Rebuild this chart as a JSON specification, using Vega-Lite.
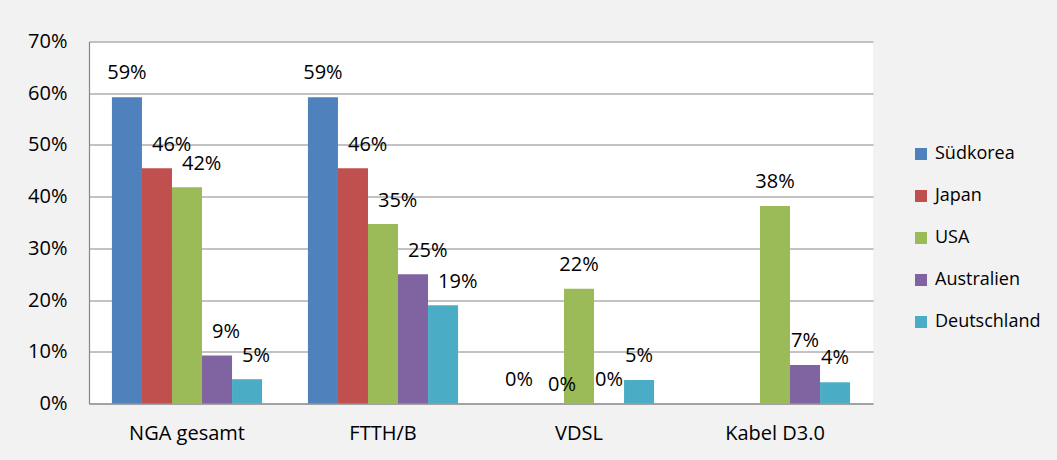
{
  "$schema": "https://vega.github.io/schema/vega-lite/v6.json",
  "width": 784,
  "height": 362,
  "autosize": {"type": "none"},
  "padding": {"left": 89, "top": 41.5, "right": 184, "bottom": 56.5},
  "background": "#f2f2f2",
  "config": {
    "font": "Open Sans",
    "view": {"fill": "white", "stroke": null},
    "axis": {"labelFont": "Open Sans", "labelColor": "#000000", "gridColor": "#868686", "domainColor": "#868686", "gridWidth": 1, "domainWidth": 1.2}
  },
  "data": {
    "values": [
      {"cat": "NGA gesamt", "land": "Südkorea", "v": 0.592},
      {"cat": "NGA gesamt", "land": "Japan", "v": 0.455},
      {"cat": "NGA gesamt", "land": "USA", "v": 0.418},
      {"cat": "NGA gesamt", "land": "Australien", "v": 0.093},
      {"cat": "NGA gesamt", "land": "Deutschland", "v": 0.047},
      {"cat": "FTTH/B", "land": "Südkorea", "v": 0.592},
      {"cat": "FTTH/B", "land": "Japan", "v": 0.455},
      {"cat": "FTTH/B", "land": "USA", "v": 0.347},
      {"cat": "FTTH/B", "land": "Australien", "v": 0.25},
      {"cat": "FTTH/B", "land": "Deutschland", "v": 0.19},
      {"cat": "VDSL", "land": "Südkorea", "v": 0},
      {"cat": "VDSL", "land": "Japan", "v": 0},
      {"cat": "VDSL", "land": "USA", "v": 0.222},
      {"cat": "VDSL", "land": "Australien", "v": 0},
      {"cat": "VDSL", "land": "Deutschland", "v": 0.0455},
      {"cat": "Kabel D3.0", "land": "USA", "v": 0.382},
      {"cat": "Kabel D3.0", "land": "Australien", "v": 0.0745},
      {"cat": "Kabel D3.0", "land": "Deutschland", "v": 0.041}
    ]
  },
  "encoding": {
    "x": {
      "field": "cat", "type": "nominal", "sort": ["NGA gesamt", "FTTH/B", "VDSL", "Kabel D3.0"],
      "scale": {"paddingInner": 0.234, "paddingOuter": 0.117},
      "axis": {"title": null, "labelAngle": 0, "ticks": false, "labelFontSize": 20, "labelPadding": 20, "grid": false}
    },
    "xOffset": {
      "field": "land", "type": "nominal",
      "scale": {"domain": ["Südkorea", "Japan", "USA", "Australien", "Deutschland"], "paddingInner": 0, "paddingOuter": 0}
    },
    "y": {
      "field": "v", "type": "quantitative",
      "scale": {"domain": [0, 0.7], "nice": false},
      "axis": {"title": null, "format": ".0%", "values": [0, 0.1, 0.2, 0.3, 0.4, 0.5, 0.6, 0.7], "ticks": false, "labelFontSize": 20, "labelPadding": 22, "grid": true}
    }
  },
  "layer": [
    {
      "mark": {"type": "bar"},
      "encoding": {
        "color": {
          "field": "land", "type": "nominal",
          "scale": {"domain": ["Südkorea", "Japan", "USA", "Australien", "Deutschland"], "range": ["#4F81BD", "#C0504D", "#9BBB59", "#8064A2", "#4BACC6"]},
          "legend": {
            "title": null, "orient": "none", "legendX": 823, "legendY": 103.5,
            "symbolType": "square", "symbolSize": 144, "symbolStrokeWidth": 0, "symbolOpacity": 1,
            "labelFont": "Open Sans", "labelFontSize": 18, "labelColor": "#000000", "labelOffset": 5,
            "rowPadding": 24, "labelLimit": 200
          }
        }
      }
    },
    {
      "transform": [{"filter": "!((datum.cat === 'NGA gesamt' || datum.cat === 'FTTH/B') && datum.land !== 'Südkorea') && !(datum.cat === 'VDSL' && datum.land === 'Japan')"}],
      "mark": {"type": "text", "baseline": "alphabetic", "dy": -18, "fontSize": 20, "font": "Open Sans", "color": "#000000"},
      "encoding": {
        "text": {"field": "v", "type": "quantitative", "format": ".0%"}
      }
    },
    {
      "transform": [{"filter": "(datum.cat === 'NGA gesamt' || datum.cat === 'FTTH/B') && datum.land !== 'Südkorea'"}],
      "mark": {"type": "text", "baseline": "alphabetic", "align": "left", "dx": -5, "dy": -17, "fontSize": 20, "font": "Open Sans", "color": "#000000"},
      "encoding": {
        "text": {"field": "v", "type": "quantitative", "format": ".0%"}
      }
    },
    {
      "transform": [{"filter": "datum.cat === 'VDSL' && datum.land === 'Japan'"}],
      "mark": {"type": "text", "baseline": "alphabetic", "align": "left", "dx": -1, "dy": -13, "fontSize": 20, "font": "Open Sans", "color": "#000000"},
      "encoding": {
        "text": {"field": "v", "type": "quantitative", "format": ".0%"}
      }
    }
  ]
}
